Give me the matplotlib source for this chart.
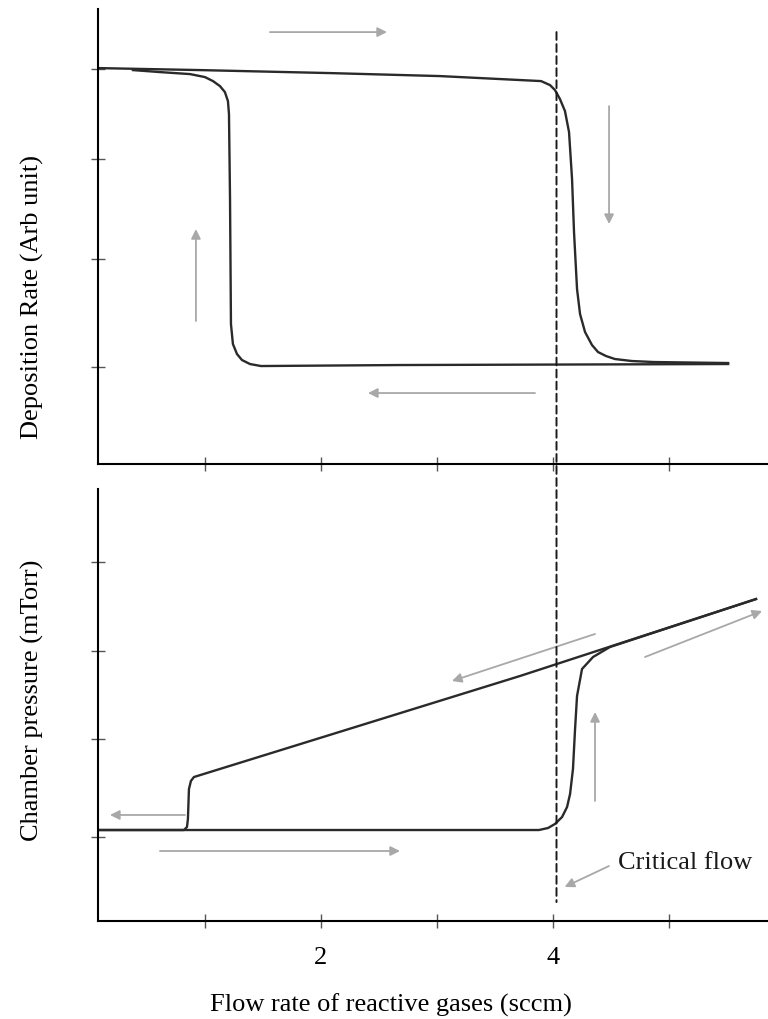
import matplotlib
matplotlib.use('Agg')
import matplotlib.pyplot as plt
from matplotlib.patches import ConnectionPatch

plt.rcParams['font.family'] = ['Liberation Serif', 'DejaVu Serif']

# deposition rate, increasing flow (metallic -> poisoned)
dep_up_x = [0.078, 0.957, 2.078, 3.026, 3.897, 3.974, 4.017, 4.060, 4.103, 4.138, 4.164,
            4.181, 4.207, 4.233, 4.276, 4.336, 4.388, 4.457, 4.534, 4.681, 4.871, 5.509]
dep_up_y = [2.99, 2.97, 2.94, 2.91, 2.86, 2.82, 2.77, 2.68, 2.56, 2.35, 1.88,
            1.35, 0.78, 0.53, 0.35, 0.22, 0.15, 0.11, 0.08, 0.06, 0.05, 0.04]
# deposition rate, decreasing flow
dep_down_x = [5.509, 2.681, 1.483, 1.388, 1.319, 1.276, 1.241, 1.224, 1.216, 1.207, 1.198,
              1.172, 1.129, 1.069, 1.000, 0.871, 0.612, 0.379]
dep_down_y = [0.03, 0.02, 0.01, 0.03, 0.07, 0.13, 0.23, 0.43, 1.68, 2.53, 2.66,
              2.75, 2.81, 2.86, 2.90, 2.93, 2.95, 2.97]

# chamber pressure, increasing flow
p_up_x = [0.078, 1.819, 3.879, 3.957, 4.017, 4.078, 4.121, 4.147, 4.172, 4.190, 4.207,
          4.250, 4.345, 4.491, 5.750]
p_up_y = [0.076, 0.076, 0.076, 0.098, 0.142, 0.218, 0.327, 0.469, 0.742, 1.178, 1.538,
          1.832, 1.963, 2.072, 2.595]
# chamber pressure, decreasing flow
p_down_x = [5.750, 3.716, 0.905, 0.879, 0.862, 0.853, 0.845, 0.819, 0.078]
p_down_y = [2.595, 1.756, 0.654, 0.611, 0.523, 0.196, 0.109, 0.076, 0.076]

critical_flow = 4.03

x_ticks = [1, 2, 3, 4, 5]
x_tick_labels = ['', '2', '', '4', '']
dep_y_ticks = [0, 1.08, 2.08, 2.98]
p_y_ticks = [0, 1.07, 2.03, 3.0]

# direction arrows (tail, head) in data units
dep_arrows = [((1.560, 3.35), (2.569, 3.35)),
              ((4.483, 2.61), (4.483, 1.43)),
              ((0.922, 0.46), (0.922, 1.38)),
              ((3.845, -0.26), (2.405, -0.26))]
p_arrows = [((0.828, 0.24), (0.181, 0.24)),
            ((0.612, -0.153), (2.681, -0.153)),
            ((4.362, 0.393), (4.362, 1.363)),
            ((4.362, 2.214), (3.129, 1.701)),
            ((4.793, 1.963), (5.802, 2.465))]

fig = plt.figure(figsize=(7.68, 10.2), dpi=100)
ax1 = fig.add_axes([0.1276, 0.5441, 0.8724, 0.446])
ax2 = fig.add_axes([0.1276, 0.0961, 0.8724, 0.4235])

line_kw = dict(color='#2a2a2a', lw=1.7)
arrow_kw = dict(arrowstyle='-|>', color='#a8a8a8', lw=1.3, mutation_scale=14, shrinkA=0, shrinkB=0)

ax1.plot(dep_up_x, dep_up_y, **line_kw)
ax1.plot(dep_down_x, dep_down_y, **line_kw)
for tail, head in dep_arrows:
    ax1.annotate('', xy=head, xytext=tail, arrowprops=arrow_kw)

ax2.plot(p_up_x, p_up_y, **line_kw)
ax2.plot(p_down_x, p_down_y, **line_kw)
for tail, head in p_arrows:
    ax2.annotate('', xy=head, xytext=tail, arrowprops=arrow_kw)

ax2.annotate('Critical flow', xy=(4.10, -0.545), xytext=(4.56, -0.27),
             fontsize=19, ha='left', va='center', color='#1a1a1a',
             arrowprops=dict(arrowstyle='-|>', color='#a8a8a8', lw=1.3,
                             mutation_scale=14, shrinkA=5, shrinkB=0,
                             relpos=(0, 0.5)))

for ax in (ax1, ax2):
    ax.set_xlim(0.078, 5.853)
    ax.spines['top'].set_visible(False)
    ax.spines['right'].set_visible(False)
    ax.spines['left'].set_linewidth(1.5)
    ax.spines['bottom'].set_linewidth(1.5)
    ax.set_xticks(x_ticks)
    ax.tick_params(direction='inout', length=10, width=1.0, color='#555555')

ax1.set_ylim(-0.97, 3.58)
ax1.set_yticks(dep_y_ticks)
ax1.set_yticklabels([])
ax1.set_xticklabels([])
ax1.set_ylabel('Deposition Rate (Arb unit)', fontsize=19)
ax1.yaxis.set_label_coords(-0.08, 0.369)

ax2.set_ylim(-0.916, 3.795)
ax2.set_yticks(p_y_ticks)
ax2.set_yticklabels([])
ax2.set_xticklabels(x_tick_labels, fontsize=19)
ax2.tick_params(axis='x', pad=13)
ax2.set_ylabel('Chamber pressure (mTorr)', fontsize=19)
ax2.yaxis.set_label_coords(-0.08, 0.512)
ax2.set_xlabel('Flow rate of reactive gases (sccm)', fontsize=19)
ax2.xaxis.set_label_coords(0.437, -0.165)

# dashed critical-flow line running through both panels
con = ConnectionPatch(xyA=(critical_flow, 3.35), coordsA=ax1.transData,
                      xyB=(critical_flow, -0.71), coordsB=ax2.transData,
                      color='#1a1a1a', lw=1.4, linestyle=(0, (4, 2.2)))
fig.add_artist(con)

fig.savefig('out.png', dpi=100)
